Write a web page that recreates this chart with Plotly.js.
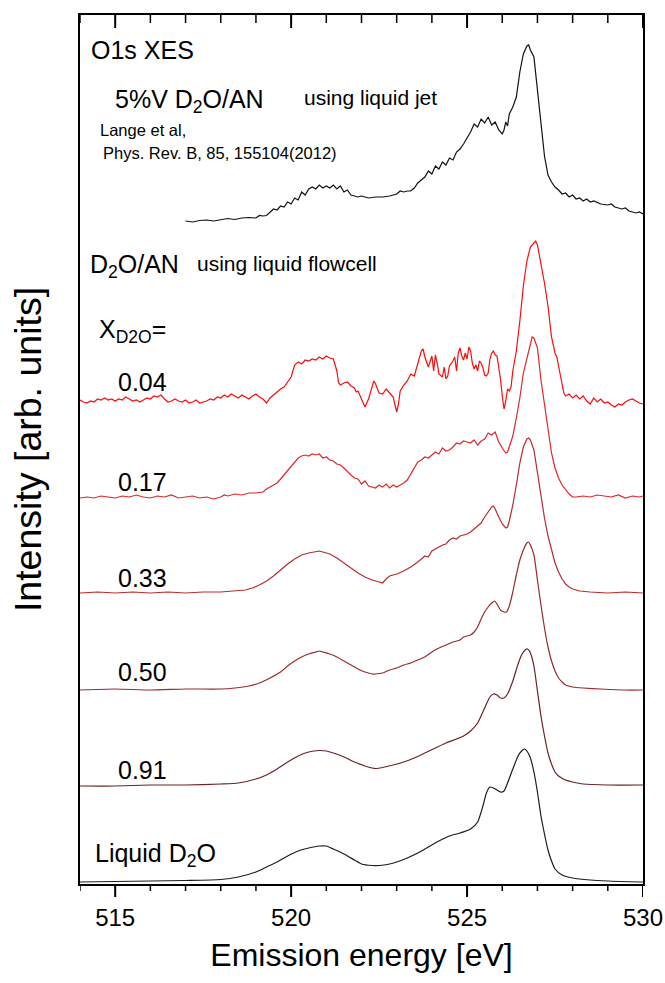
<!DOCTYPE html>
<html>
<head>
<meta charset="utf-8">
<script src="https://cdn.plot.ly/plotly-3.0.1.min.js"></script>
<style>html,body{margin:0;padding:0;background:#fff;}#chart{width:665px;height:983px;}</style>
</head>
<body>
<div id="chart"></div>
<script>
// ---- Data (emission energy in eV, intensity in arbitrary units above each curve's own baseline) ----
const seriesNames = ["5%V D2O/AN (liquid jet)", "0.04", "0.17", "0.33", "0.50", "0.91", "Liquid D2O"];
const stackOffsets = [662, 483, 386, 291, 194, 98, 2];

const jetE = [517.0,517.2,517.4,517.6,517.8,518.0,518.2,518.4,518.6,518.8,519.0,519.1,519.2,519.3,519.4,519.5,519.6,519.7,519.8,519.9,520.0,520.1,520.2,520.3,520.4,520.5,520.6,520.7,520.8,520.9,521.0,521.1,521.2,521.3,521.4,521.5,521.6,521.7,521.8,521.9,522.0,522.2,522.4,522.6,522.8,523.0,523.1,523.2,523.3,523.4,523.5,523.6,523.7,523.8,523.9,524.0,524.1,524.2,524.3,524.4,524.5,524.6,524.7,524.8,524.9,525.0,525.1,525.2,525.3,525.4,525.5,525.6,525.7,525.8,525.9,526.0,526.05,526.1,526.15,526.2,526.3,526.4,526.5,526.6,526.7,526.75,526.8,526.9,527.0,527.1,527.2,527.3,527.4,527.5,527.6,527.7,527.8,527.9,528.0,528.1,528.2,528.3,528.4,528.5,528.6,528.8,529.0,529.1,529.2,529.4,529.5,529.6,529.8,529.9,530.0];
const jetI = [1,0,1.5,2,1,2.5,3.5,2.5,4,4.5,4,6.5,6,6.5,10,13,12,16,15,20,18,24,22,30,27,33,35,33,37,34,36,34,37,33,36,30,32,27,26,25,26,24,25,25,26,28,31,30,31,31,34,39,42,45,51,48,56,53,60,57,64,62,70,73,78,84,90,98,95,103,99,105,97,100,92,88,92,100,96,108,115,125,150,168,176,177,172,165,130,95,66,47,40,35,32,28,29,25,27,23,24,21,23,20,21,18,17,18,15,13,14,11,9,10,8];

const x004E = [514.0,514.1,514.2,514.3,514.4,514.5,514.6,514.7,514.8,514.9,515.0,515.1,515.2,515.3,515.4,515.5,515.6,515.7,515.8,515.9,516.0,516.1,516.2,516.3,516.4,516.5,516.6,516.7,516.8,516.9,517.0,517.1,517.2,517.3,517.4,517.5,517.6,517.7,517.8,517.9,518.0,518.1,518.2,518.3,518.4,518.5,518.6,518.7,518.8,518.9,519.0,519.1,519.2,519.3,519.4,519.5,519.6,519.7,519.8,519.9,520.0,520.05,520.1,520.2,520.3,520.4,520.5,520.6,520.7,520.8,520.9,521.0,521.1,521.2,521.3,521.35,521.4,521.5,521.6,521.7,521.8,521.85,521.9,522.0,522.1,522.2,522.3,522.35,522.4,522.5,522.6,522.7,522.8,522.9,523.0,523.05,523.1,523.2,523.3,523.4,523.5,523.6,523.7,523.75,523.8,523.9,523.95,524.0,524.05,524.1,524.15,524.2,524.3,524.35,524.4,524.45,524.5,524.6,524.65,524.7,524.75,524.8,524.85,524.9,524.95,525.0,525.05,525.1,525.15,525.2,525.25,525.3,525.35,525.4,525.45,525.5,525.55,525.6,525.65,525.7,525.75,525.8,525.85,525.9,525.95,526.0,526.05,526.1,526.15,526.2,526.25,526.3,526.4,526.5,526.6,526.7,526.8,526.9,526.95,527.0,527.1,527.2,527.3,527.35,527.4,527.5,527.55,527.6,527.7,527.75,527.8,527.9,528.0,528.1,528.2,528.3,528.4,528.5,528.6,528.7,528.8,528.9,529.0,529.1,529.2,529.3,529.4,529.5,529.6,529.7,529.8,529.9,530.0];
const x004I = [1,-1,-2,0,-1,2,1,3,1,2,0,2,1,4,2,0,1,-1,1,3,2,5,4,6,2,-1,0,2,0,-1,1,-2,-1,1,-2,-1,0,2,1,4,3,6,4,7,5,3,6,4,2,5,7,4,2,-2,3,6,9,12,14,19,24,30,36,39,37,41,40,42,41,44,42,45,43,42,30,18,16,18,19,15,13,9,10,2,-6,2,14,20,17,8,7,12,8,4,-11,-3,10,16,20,27,25,38,50,52,44,34,41,45,30,46,38,27,24,34,22,25,35,40,44,30,48,53,45,41,48,42,54,50,38,32,36,30,40,38,33,26,25,28,42,48,50,46,45,35,22,5,-8,0,12,10,14,30,50,80,115,140,154,158,160,156,138,118,95,82,64,48,44,35,14,8,5,7,3,6,2,5,0,-3,3,-1,2,-2,-1,-4,-6,-3,-4,-1,1,2,0,-2,-3];

const x017E = [514.0,514.2,514.4,514.6,514.8,515.0,515.2,515.4,515.6,515.8,516.0,516.2,516.4,516.6,516.8,517.0,517.2,517.4,517.6,517.8,518.0,518.1,518.2,518.4,518.6,518.8,519.0,519.2,519.3,519.4,519.5,519.6,519.7,519.8,519.9,520.0,520.1,520.2,520.3,520.4,520.5,520.6,520.7,520.8,520.9,521.0,521.1,521.2,521.3,521.4,521.5,521.6,521.7,521.8,521.9,522.0,522.1,522.2,522.3,522.4,522.5,522.6,522.7,522.8,522.9,523.0,523.1,523.2,523.3,523.4,523.5,523.6,523.7,523.8,523.9,524.0,524.1,524.2,524.3,524.4,524.5,524.6,524.7,524.8,524.9,525.0,525.1,525.2,525.3,525.4,525.5,525.6,525.7,525.8,525.85,525.9,526.0,526.1,526.15,526.2,526.3,526.4,526.5,526.6,526.7,526.8,526.85,526.9,527.0,527.1,527.2,527.3,527.4,527.5,527.6,527.7,527.8,527.9,528.0,528.1,528.3,528.5,528.7,528.9,529.1,529.3,529.5,529.7,529.9,530.0];
const x017I = [0,1,0,2,1,0,2,1,3,1,0,2,1,3,0,1,2,0,1,-1,1,3,2,4,3,5,5,6,9,11,13,15,19,23,27,31,35,40,42,43,42,44,43,44,40,41,38,37,34,33,30,26,23,20,19,14,17,12,11,10,13,11,14,10,13,11,13,15,18,24,30,36,38,41,40,43,46,44,50,47,48,51,55,54,57,56,55,58,53,57,59,65,63,66,60,56,50,45,46,52,62,80,100,125,140,155,161,160,150,118,95,68,45,30,20,13,8,4,1,1,2,1,3,2,1,3,0,2,1,2];

const x033E = [514.0,514.5,515.0,515.5,516.0,516.5,517.0,517.5,518.0,518.4,518.7,518.9,519.1,519.3,519.5,519.7,519.9,520.1,520.3,520.5,520.7,520.8,520.9,521.1,521.3,521.5,521.7,521.9,522.1,522.3,522.5,522.6,522.7,522.8,523.0,523.2,523.4,523.6,523.8,523.9,524.0,524.2,524.3,524.4,524.5,524.6,524.7,524.8,525.0,525.1,525.2,525.3,525.4,525.5,525.6,525.7,525.75,525.8,525.9,526.0,526.1,526.15,526.2,526.3,526.4,526.5,526.6,526.7,526.75,526.8,526.9,527.0,527.1,527.2,527.3,527.4,527.5,527.6,527.7,527.8,527.9,528.0,528.2,528.5,529.0,529.5,530.0];
const x033I = [0,1,0,1,0,1,0,1,1,2,3,5,8,12,17,23,29,34,38,40,41,42,41,39,35,30,25,20,16,13,11,10,14,17,19,22,26,31,37,36,42,46,48,49,53,55,54,57,59,61,64,67,70,76,81,86,87,84,76,69,65,66,72,88,108,130,146,154,155,153,143,120,95,75,57,42,30,21,14,9,6,4,2,1,0,1,0];

const x050E = [514.0,515.0,516.0,517.0,518.0,518.4,518.8,519.1,519.4,519.7,519.9,520.1,520.3,520.5,520.7,520.8,520.9,521.1,521.3,521.5,521.7,521.9,522.1,522.3,522.4,522.6,522.8,523.0,523.2,523.4,523.6,523.8,524.0,524.2,524.4,524.6,524.8,524.9,525.0,525.1,525.2,525.3,525.4,525.5,525.6,525.7,525.78,525.85,525.95,526.05,526.12,526.2,526.3,526.4,526.5,526.6,526.7,526.75,526.8,526.9,527.0,527.1,527.2,527.3,527.4,527.5,527.6,527.7,527.8,528.0,528.3,528.8,529.5,530.0];
const x050I = [0,1,0,1,1,2,4,7,12,18,24,29,33,36,38,39,38,36,33,29,25,21,18,16,16,17,20,22,25,27,30,33,38,42,45,48,50,53,54,55,58,63,71,78,83,87,89,86,80,78,78,84,98,115,130,140,147,148,145,135,110,85,62,43,29,19,12,8,5,3,2,1,0,0];

const x091E = [514.0,515.0,516.0,517.0,518.0,518.5,519.0,519.3,519.6,519.9,520.2,520.5,520.8,521.0,521.2,521.5,521.8,522.1,522.3,522.4,522.6,522.9,523.2,523.5,523.8,524.1,524.4,524.7,524.9,525.1,525.3,525.5,525.65,525.75,525.85,525.95,526.05,526.15,526.3,526.45,526.55,526.65,526.72,526.8,526.9,527.0,527.1,527.2,527.3,527.4,527.5,527.6,527.8,528.0,528.3,529.0,530.0];
const x091I = [0,0,1,1,2,3,7,11,17,24,30,34,35.5,35,33,29,24,20,18,17.5,18.5,21,24,28,33,38,43,47,50,55,63,78,89,92,91,88,88,92,105,122,131,136,137,133,120,95,70,50,33,22,14,10,6,4,2,1,1];

const d2oE = [514.0,515.0,516.0,517.0,518.0,518.5,519.0,519.3,519.6,519.9,520.2,520.5,520.8,521.0,521.2,521.5,521.8,522.0,522.3,522.5,522.8,523.0,523.3,523.6,523.9,524.2,524.5,524.8,525.1,525.3,525.45,525.55,525.65,525.75,525.85,525.95,526.05,526.15,526.3,526.45,526.55,526.63,526.7,526.8,526.9,527.0,527.1,527.2,527.3,527.4,527.5,527.7,528.0,528.5,529.0,530.0];
const d2oI = [0,0.5,1,1.5,2.5,5,10,15,20,26,31,34,36,36,33,28,22,18,16.5,16.5,18,20,24,29,35,41,46,49,53,60,76,89,95,94,92,90,91,99,113,126,131,133,131,124,110,90,66,48,32,21,13,7,4,2,1,0];

// axis tick values (eV)
const majorTickVals = [515, 520, 525, 530];
const minorTickVals = [514, 516, 517, 518, 519, 521, 522, 523, 524, 526, 527, 528, 529];

const energies = [jetE, x004E, x017E, x033E, x050E, x091E, d2oE];
const intensities = [jetI, x004I, x017I, x033I, x050I, x091I, d2oI];
const colors = ["#111111", "#ff0a0a", "#e2262a", "#bb2b2d", "#9a2a2b", "#6a2224", "#1c1c1c"];
const lineKinds = ["linear", "linear", "linear", "linear", "spline", "spline", "spline"];

const traces = energies.map((e, i) => ({
  type: "scatter", mode: "lines", name: seriesNames[i],
  x: e,
  y: intensities[i].map(v => v + stackOffsets[i]),
  line: {color: colors[i], width: 1.2, shape: lineKinds[i], smoothing: 0.6},
  hoverinfo: "skip"
}));

// ---- frame tick marks (drawn as segments at the tick values) ----
const Y_TOP = 869;                 // top of the main y range
function segs(vals, yFrom, yTo) {
  const xs = [], ys = [];
  vals.forEach(v => { xs.push(v, v, null); ys.push(yFrom, yTo, null); });
  return {xs, ys};
}
const topMajor = segs(majorTickVals, Y_TOP, Y_TOP - 13);
const topMinor = segs(minorTickVals, Y_TOP, Y_TOP - 8);
const botMajor = segs(majorTickVals, 13, 0);
const botMinor = segs(minorTickVals, 13, 6);
traces.push(
  {type: "scatter", mode: "lines", x: topMajor.xs, y: topMajor.ys, xaxis: "x", yaxis: "y", line: {color: "#000", width: 2}, hoverinfo: "skip", showlegend: false},
  {type: "scatter", mode: "lines", x: topMinor.xs, y: topMinor.ys, xaxis: "x", yaxis: "y", line: {color: "#000", width: 1.5}, hoverinfo: "skip", showlegend: false},
  {type: "scatter", mode: "lines", x: botMajor.xs, y: botMajor.ys, xaxis: "x2", yaxis: "y2", line: {color: "#000", width: 2}, hoverinfo: "skip", showlegend: false},
  {type: "scatter", mode: "lines", x: botMinor.xs, y: botMinor.ys, xaxis: "x2", yaxis: "y2", line: {color: "#000", width: 1.5}, hoverinfo: "skip", showlegend: false}
);

const FONT = "'Liberation Sans', Arial, Helvetica, sans-serif";
const PLOT_H = 983 - 15 - 86;      // main area (869 px) + tick strip (13 px)
const STRIP = 13 / PLOT_H;

function ann(text, x, y, size) {
  return {text: text, x: x, y: y, xref: "x", yref: "y", xanchor: "left", yanchor: "middle",
          showarrow: false, font: {family: FONT, size: size, color: "#000"}};
}

const layout = {
  width: 665, height: 983,
  margin: {l: 80, r: 22, t: 15, b: 86, pad: 0},
  paper_bgcolor: "#ffffff", plot_bgcolor: "rgba(0,0,0,0)",
  showlegend: false,
  font: {family: FONT, color: "#000"},
  xaxis: {
    range: [514, 530], autorange: false, anchor: "y",
    showticklabels: false, ticks: "", showgrid: false, zeroline: false,
    showline: true, linewidth: 2, linecolor: "#000", mirror: true,
    automargin: false
  },
  xaxis2: {
    range: [514, 530], autorange: false, anchor: "y2",
    tickmode: "array", tickvals: majorTickVals, ticks: "",
    showline: false, showgrid: false, zeroline: false,
    tickfont: {family: FONT, size: 24, color: "#000"},
    ticklabelstandoff: 4,
    title: {text: "Emission energy [eV]", font: {family: FONT, size: 32, color: "#000"}, standoff: 13},
    automargin: false
  },
  yaxis: {
    domain: [STRIP, 1], range: [0, 869], autorange: false,
    showticklabels: false, ticks: "", showgrid: false, zeroline: false,
    showline: true, linewidth: 2, linecolor: "#000", mirror: true,
    title: {text: "Intensity [arb. units]", font: {family: FONT, size: 37.5, color: "#000"}, standoff: 25},
    automargin: false
  },
  yaxis2: {
    domain: [0, STRIP], range: [0, 13], autorange: false, anchor: "x2",
    showticklabels: false, ticks: "", showgrid: false, zeroline: false, showline: false,
    automargin: false
  },
  annotations: [
    ann("O1s XES", 514.26, 834, 25),
    ann("5%V D<sub>2</sub>O/AN", 514.94, 783, 25),
    ann("using liquid jet", 520.31, 787, 21),
    ann("Lange et al,", 514.51, 754, 16.5),
    ann("Phys. Rev. B, 85, 155104(2012)", 514.6, 731, 16.5),
    ann("D<sub>2</sub>O/AN", 514.23, 618, 25),
    ann("using liquid flowcell", 517.27, 621, 21),
    ann("X<sub>D2O</sub>=", 514.48, 553, 25),
    ann("0.04", 515.02, 502, 25),
    ann("0.17", 515.02, 402, 25),
    ann("0.33", 515.02, 306, 25),
    ann("0.50", 515.02, 212, 25),
    ann("0.91", 515.02, 114, 25),
    ann("Liquid D<sub>2</sub>O", 514.37, 29, 25)
  ]
};

Plotly.newPlot("chart", traces, layout, {staticPlot: true, displayModeBar: false});
</script>
</body>
</html>
